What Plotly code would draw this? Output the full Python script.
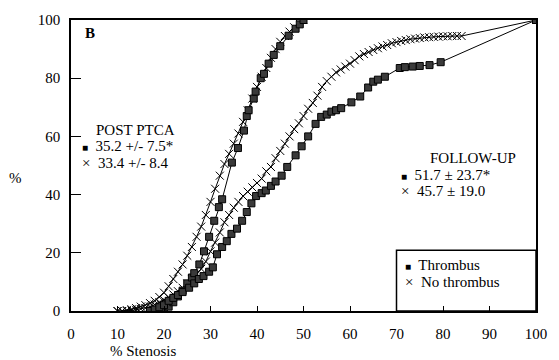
import plotly.graph_objects as go

# POST PTCA, no thrombus (x markers)
post_no_x = [10,11,12,13,14,15,16,17,18,19,20,21,22,23,24,25,26,27,28,29,30,31,32,33,34,35,36,37,38,39,40,41,42,43,44,45,46,47,48,49,50]
post_no_y = [0,0,0.3,0.6,1,1.5,2,2.7,3.5,4.8,6.3,8.5,11,13.5,16,19,22,25.5,29,33,37.5,42,46.5,50.5,54,57.5,61,65,69,73,77,80.5,83.5,87,90,92.5,94.5,96,97.5,99,100]

# POST PTCA, thrombus (square markers)
post_th_x = [17,18,19,20,21,22,23,24,25,26,26.5,27.6,28.6,29.7,30.8,31.8,32.5,34.6,35.9,37.2,37.8,38.2,39.3,39.7,40.8,41.5,42.5,43.6,45,46.8,48.3,49.2,50]
post_th_y = [0,0,0.3,0.5,1.5,3,5,7,9.5,11.5,13,16,20.5,25.5,31,35.7,38.4,51,56,62,67,69,73,75.4,80,81.5,85,88,91,94.6,97,98.5,100]

# FOLLOW-UP, no thrombus (x markers)
fu_no_x = [10,11,12,13,14,15,16,17,18,19,20,21,22,23,24,25,26,27,28,29,30,31,32,33,34,35,36,37,38,39,40,41,42,43,44,45,46,47,48,49,50,
           51,52,53,54,55,56,57,58,59,60,61,62,63,64,65,66,67,68,69,70,71,72,73,74,75,76,77,78,79,80,81,82,83,84,100]
fu_no_y = [0,0,0,0.2,0.4,0.7,1,1.5,2.2,3,3.8,4.7,5.7,6.8,8,9.5,11,12.7,14.5,17,20.5,23.5,27,30.5,33,35.5,37.5,39.5,41,42.5,44,45.5,48,49.5,52.5,55,57.5,60,62.5,64.5,67,
           69.5,71.5,74,77,79,80.5,82,83,84,85,86.2,87.5,88.3,89,89.7,90.3,90.9,91.4,92,92.4,92.8,93.1,93.4,93.6,93.8,94,94.1,94.2,94.3,94.4,94.4,94.5,94.5,94.5,100]

# FOLLOW-UP, thrombus (square markers)
fu_th_x = [17,18,19,20,21,22,23,24,25.4,26.5,27.5,28.5,29.7,30.5,31.4,32.5,33.5,34.5,35.7,36.8,37.8,38.8,39.8,41,41.9,43,44,45.3,46.5,48.3,49.6,51,52.6,53.8,55,56,57,58.1,60.3,62.2,63.9,65,66,67.5,70.7,71.8,73.5,75,77.1,79.5,100]
fu_th_y = [0,0.5,1.3,2,3.5,4.5,5.5,6.5,8,9.5,11,12,13.5,15,19.5,22,24,26.5,28.3,31,34,37,39.5,40.5,41.4,43,44.5,46.5,49.5,53.5,56.6,60,64.3,66.7,67.5,68.5,69,69.7,71.7,73.7,76.8,78.8,79.5,80.5,83.5,83.8,84,84.2,84.5,85.5,100]

x_ticks = [0,10,20,30,40,50,60,70,80,90,100]
y_ticks = [0,20,40,60,80,100]

FONT = "Liberation Serif, Times New Roman, serif"

sq_marker = dict(symbol="square", size=7, color="#3a3a3a", line=dict(color="black", width=1))
x_marker = dict(symbol="x-thin", size=8, line=dict(color="black", width=1), color="black")
line_style = dict(color="black", width=1)

fig = go.Figure()
fig.add_trace(go.Scatter(x=post_no_x, y=post_no_y, mode="lines+markers", line=line_style, marker=x_marker, showlegend=False))
fig.add_trace(go.Scatter(x=fu_no_x, y=fu_no_y, mode="lines+markers", line=line_style, marker=x_marker, showlegend=False))
fig.add_trace(go.Scatter(x=post_th_x, y=post_th_y, mode="lines+markers", line=line_style, marker=sq_marker, showlegend=False))
fig.add_trace(go.Scatter(x=fu_th_x, y=fu_th_y, mode="lines+markers", line=line_style, marker=sq_marker, showlegend=False))

axis_common = dict(showline=True, linecolor="black", linewidth=1.5, mirror=True, showgrid=False, zeroline=False,
                   ticks="inside", tickcolor="black", tickfont=dict(family=FONT, size=15, color="black"))

fig.update_xaxes(range=[0, 100], tickvals=x_ticks, ticklen=5, ticklabelstandoff=8, **axis_common)
fig.update_yaxes(range=[0, 100], tickvals=y_ticks, ticklen=10, ticklabelstandoff=6, **axis_common)

SQ = "<span style='font-size:10px'>■</span>"
XX = "×"

ann = []
def txt(x, y, s, size=15, xanchor="left", xref="x", yref="y", bold=False):
    ann.append(dict(x=x, y=y, xref=xref, yref=yref, text=("<b>%s</b>" % s) if bold else s, showarrow=False,
                    xanchor=xanchor, yanchor="middle", font=dict(family=FONT, size=size, color="black")))

txt(2.5, 95.5, "B", size=15, bold=True)
txt(5.0, 62.3, "POST PTCA")
txt(2.0, 56.6, SQ + "  35.2 +/- 7.5*")
txt(2.0, 50.9, XX + "  33.4 +/- 8.4")

txt(76.7, 52.5, "FOLLOW-UP")
txt(70.6, 46.8, SQ + "  51.7 ± 23.7*")
txt(70.6, 41.1, XX + "  45.7 ± 19.0")

txt(71.4, 15.8, SQ + "  Thrombus")
txt(71.4, 10.1, XX + "  No thrombus")

txt(-0.12, 45.8, "%", size=15, xanchor="center", xref="paper")
txt(15.4, -0.138, "% Stenosis", size=15, xanchor="center", yref="paper")

fig.update_layout(
    width=559, height=360,
    margin=dict(l=71, r=20, t=14, b=49),
    paper_bgcolor="white", plot_bgcolor="white",
    annotations=ann,
    shapes=[dict(type="rect", xref="x", yref="y", x0=70, x1=100, y0=0, y1=20.9,
                 line=dict(color="black", width=1.5), fillcolor="rgba(0,0,0,0)")],
)

fig.write_html("out.html")
